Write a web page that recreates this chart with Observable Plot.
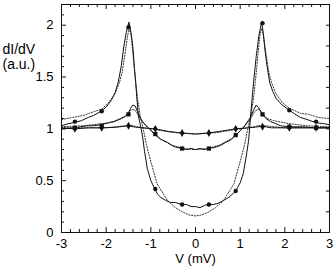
<!DOCTYPE html>
<html>
<head>
<meta charset="utf-8">
<script src="https://cdn.jsdelivr.net/npm/d3@7"></script>
<script src="https://cdn.jsdelivr.net/npm/@observablehq/plot@0.6"></script>
<style>
  html, body { margin: 0; padding: 0; background: #fff; }
  #chart svg { display: block; }
</style>
</head>
<body>
<div id="chart"></div>
<script>
// ---- tick labels and axis titles ----
const xTicks = [-3, -2, -1, 0, 1, 2, 3];
const xTickLabels = ["-3", "-2", "-1", "0", "1", "2", "3"];
const yTicks = [0, 0.5, 1, 1.5, 2];
const yTickLabels = ["0", "0.5", "1", "1.5", "2"];
const xTitle = "V (mV)";
const yTitleLines = ["dI/dV", "(a.u.)"];

// ---- measured curves (solid, with markers) [V, dI/dV] ----
const strongSolid = [
  [-3.0,1.03],[-2.85,1.05],[-2.72,1.06],[-2.55,1.08],[-2.4,1.11],[-2.28,1.13],[-2.11,1.17],
  [-2.0,1.21],[-1.88,1.28],[-1.8,1.35],[-1.73,1.45],[-1.66,1.61],[-1.61,1.78],[-1.55,1.93],
  [-1.49,2.03],[-1.44,1.92],[-1.40,1.78],[-1.37,1.60],[-1.34,1.45],[-1.31,1.28],[-1.28,1.13],
  [-1.23,1.03],[-1.19,0.94],[-1.14,0.78],[-1.08,0.62],[-1.0,0.50],[-0.91,0.42],[-0.85,0.37],
  [-0.78,0.34],[-0.67,0.31],[-0.56,0.29],[-0.45,0.29],[-0.31,0.27],[-0.2,0.27],[-0.1,0.25],
  [0.0,0.25],[0.1,0.24],[0.2,0.26],[0.28,0.27],[0.4,0.27],[0.5,0.28],[0.63,0.31],[0.75,0.34],
  [0.9,0.40],[1.0,0.48],[1.07,0.57],[1.13,0.72],[1.19,0.89],[1.25,1.21],[1.30,1.45],[1.36,1.70],
  [1.42,1.90],[1.48,2.03],[1.52,1.92],[1.55,1.78],[1.6,1.61],[1.66,1.45],[1.73,1.36],[1.81,1.29],
  [1.94,1.23],[2.07,1.19],[2.2,1.15],[2.35,1.11],[2.5,1.09],[2.69,1.06],[2.87,1.05],[3.0,1.04]
];
const mediumSolid = [
  [-3.0,1.00],[-2.7,1.01],[-2.43,1.03],[-2.28,1.03],[-2.1,1.04],[-1.95,1.06],[-1.83,1.07],
  [-1.68,1.10],[-1.58,1.12],[-1.51,1.15],[-1.45,1.20],[-1.40,1.23],[-1.35,1.22],[-1.30,1.17],
  [-1.23,1.10],[-1.15,1.05],[-1.08,1.02],[-0.91,0.95],[-0.78,0.90],[-0.63,0.87],[-0.49,0.83],
  [-0.31,0.81],[-0.2,0.80],[-0.1,0.81],[0.0,0.80],[0.1,0.81],[0.2,0.80],[0.28,0.81],[0.42,0.82],
  [0.56,0.84],[0.68,0.87],[0.78,0.89],[0.9,0.94],[1.0,0.98],[1.1,1.03],[1.23,1.11],[1.30,1.18],
  [1.36,1.23],[1.42,1.20],[1.49,1.14],[1.58,1.10],[1.68,1.07],[1.8,1.05],[1.9,1.03],[2.1,1.02],
  [2.4,1.02],[2.7,1.01],[3.0,1.01]
];
const weakSolid = [
  [-3.0,1.01],[-2.7,1.00],[-2.4,1.01],[-2.1,1.01],[-1.8,1.015],[-1.6,1.025],[-1.5,1.03],
  [-1.4,1.02],[-1.2,1.01],[-0.9,1.00],[-0.6,0.975],[-0.3,0.96],[0.0,0.95],[0.3,0.96],
  [0.6,0.98],[0.9,1.00],[1.2,1.01],[1.4,1.02],[1.5,1.025],[1.7,1.01],[2.1,1.01],[2.7,1.01],[3.0,1.01]
];

// ---- fitted curves (dotted) [V, dI/dV] ----
const strongFit = [
  [-3.0,1.09],[-2.75,1.11],[-2.5,1.13],[-2.25,1.17],[-2.1,1.19],[-1.95,1.25],[-1.8,1.34],
  [-1.7,1.45],[-1.64,1.55],[-1.58,1.72],[-1.52,1.90],[-1.48,1.97],[-1.44,1.90],[-1.40,1.72],
  [-1.35,1.50],[-1.30,1.30],[-1.24,1.13],[-1.17,1.00],[-1.10,0.85],[-1.01,0.70],[-0.86,0.47],
  [-0.63,0.31],[-0.45,0.24],[-0.3,0.20],[-0.15,0.17],[0.0,0.16],[0.15,0.17],[0.3,0.20],
  [0.45,0.24],[0.63,0.31],[0.86,0.47],[1.01,0.70],[1.10,0.85],[1.17,1.00],[1.24,1.13],
  [1.30,1.30],[1.35,1.50],[1.40,1.72],[1.44,1.90],[1.48,1.97],[1.52,1.90],[1.58,1.72],
  [1.64,1.55],[1.7,1.45],[1.8,1.34],[1.95,1.25],[2.1,1.20],[2.35,1.15],[2.53,1.14],[2.75,1.11],[3.0,1.10]
];
const mediumFit = [
  [-3.0,1.02],[-2.5,1.03],[-2.1,1.05],[-1.9,1.06],[-1.75,1.08],[-1.6,1.11],[-1.5,1.15],
  [-1.45,1.18],[-1.40,1.19],[-1.33,1.17],[-1.25,1.11],[-1.19,1.07],[-1.0,0.98],[-0.82,0.91],
  [-0.52,0.84],[-0.25,0.81],[0.0,0.80],[0.25,0.81],[0.52,0.84],[0.82,0.91],[1.0,0.98],
  [1.19,1.07],[1.25,1.11],[1.33,1.17],[1.40,1.19],[1.45,1.18],[1.5,1.15],[1.6,1.10],
  [1.75,1.08],[2.1,1.05],[2.5,1.03],[3.0,1.02]
];
const weakFit = [
  [-3.0,1.01],[-2.0,1.01],[-1.55,1.03],[-1.45,1.035],[-1.3,1.02],[-1.0,1.00],[-0.5,0.965],
  [0.0,0.95],[0.5,0.965],[1.0,1.00],[1.3,1.02],[1.45,1.035],[1.55,1.03],[2.0,1.01],[3.0,1.01]
];

// ---- marker positions ----
const markerV = [-2.7, -2.1, -1.5, -0.9, -0.3, 0.3, 0.9, 1.5, 2.1, 2.7];
const strongMarkers = [1.07, 1.17, 1.98, 0.42, 0.27, 0.27, 0.40, 2.02, 1.18, 1.07];
const mediumMarkers = [1.01, 1.03, 1.14, 0.95, 0.81, 0.81, 0.94, 1.14, 1.02, 1.01];
const weakMarkers   = [1.00, 1.01, 1.03, 1.00, 0.96, 0.96, 1.00, 1.02, 1.01, 1.01];

// ---- layout / style ----
const W = 333, H = 273;
const mL = 61, mR = 4, mT = 4, mB = 41;
const frameW = W - mL - mR, frameH = H - mT - mB;
const ink = "#111";
const majorLen = 5, minorLen = 3;

const xMinor = d3.range(-3, 3.0001, 0.2).map(v => +v.toFixed(2)).filter(v => !xTicks.includes(v));
const yMinorLeft = d3.range(0, 2.2001, 0.1).map(v => +v.toFixed(2)).filter(v => !yTicks.includes(v));
const yRight = d3.range(0.2, 2.2001, 0.2).map(v => +v.toFixed(2));

const xLabelMap = new Map(xTicks.map((v, i) => [v, xTickLabels[i]]));
const yLabelMap = new Map(yTicks.map((v, i) => [v, yTickLabels[i]]));

const lineOpts = {x: d => d[0], y: d => d[1], stroke: ink, strokeWidth: 1};
const fitOpts = {x: d => d[0], y: d => d[1], stroke: "#333", strokeWidth: 1, strokeDasharray: "1.2,1.6"};
const mk = (ys) => markerV.map((v, i) => ({v, y: ys[i]}));

const chart = Plot.plot({
  width: W, height: H,
  marginLeft: mL, marginRight: mR, marginTop: mT, marginBottom: mB,
  x: {domain: [-3, 3]},
  y: {domain: [0, 2.2]},
  style: {fontFamily: "'Liberation Sans', Arial, sans-serif", fontSize: "13px", background: "#fff", color: "#000"},
  marks: [
    Plot.line(strongFit, fitOpts),
    Plot.line(mediumFit, fitOpts),
    Plot.line(weakFit, fitOpts),
    Plot.line(strongSolid, lineOpts),
    Plot.line(mediumSolid, lineOpts),
    Plot.line(weakSolid, lineOpts),
    Plot.dot(mk(strongMarkers), {x: "v", y: "y", r: 2.2, symbol: "circle", fill: ink}),
    Plot.dot(mk(mediumMarkers), {x: "v", y: "y", r: 2.4, symbol: "square", fill: ink}),
    Plot.dot(mk(weakMarkers), {x: "v", y: "y", r: 2.4, symbol: "diamond", fill: ink}),
    Plot.frame({stroke: ink, strokeWidth: 1}),
    // inward ticks: bottom
    Plot.tickX(xTicks, {x: d => d, insetTop: frameH - majorLen, stroke: ink}),
    Plot.tickX(xMinor, {x: d => d, insetTop: frameH - minorLen, stroke: ink}),
    // top
    Plot.tickX(xTicks, {x: d => d, insetBottom: frameH - majorLen, stroke: ink}),
    Plot.tickX(xMinor, {x: d => d, insetBottom: frameH - minorLen, stroke: ink}),
    // left
    Plot.tickY(yTicks, {y: d => d, insetRight: frameW - majorLen, stroke: ink}),
    Plot.tickY(yMinorLeft, {y: d => d, insetRight: frameW - minorLen, stroke: ink}),
    // right
    Plot.tickY(yRight, {y: d => d, insetLeft: frameW - minorLen, stroke: ink}),
    Plot.axisX(xTicks, {tickSize: 0, tickPadding: 6, tickFormat: d => xLabelMap.get(d), label: null, fontSize: 13, fill: "#000"}),
    Plot.axisY(yTicks, {tickSize: 0, tickPadding: 8, tickFormat: d => yLabelMap.get(d), label: null, fontSize: 13, fill: "#000"}),
    Plot.text([xTitle], {frameAnchor: "bottom", dy: 26, lineAnchor: "middle", fontSize: 13, fill: "#000"}),
    Plot.text([yTitleLines[0]], {frameAnchor: "top-left", dx: 2 - mL, dy: 45, textAnchor: "start", lineAnchor: "middle", fontSize: 14, fill: "#000"}),
    Plot.text([yTitleLines[1]], {frameAnchor: "top-left", dx: 2 - mL, dy: 60, textAnchor: "start", lineAnchor: "middle", fontSize: 14, fill: "#000"})
  ]
});
document.getElementById("chart").appendChild(chart);
</script>
</body>
</html>
